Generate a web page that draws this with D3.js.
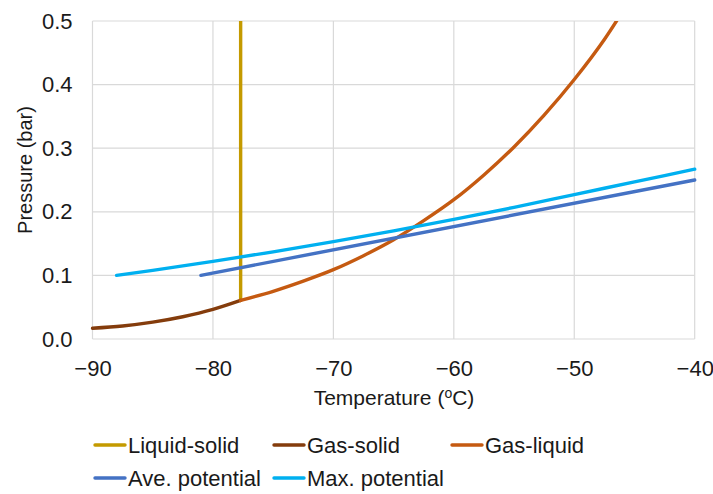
<!DOCTYPE html>
<html>
<head>
<meta charset="utf-8">
<script src="https://cdn.jsdelivr.net/npm/d3@7"></script>
<style>
  body { margin: 0; background: #fff; }
  svg { font-family: 'Liberation Sans', Arial, sans-serif; }
</style>
</head>
<body>
<script>
// temperatures in °C, pressures in bar
const liquidSolidT = [-77.7, -77.7]
const liquidSolidP = [0.0606, 0.6]

const gasSolidT = [-90, -87.5, -85, -82.5, -80, -77.7]
const gasSolidP = [0.017, 0.0205, 0.0265, 0.035, 0.0465, 0.0606]

const gasLiquidT = [-77.7, -75, -72.5, -70, -67.5, -65, -62.5, -60, -57.5, -55, -52.5, -50, -47.5, -45]
const gasLiquidP = [0.0606, 0.075, 0.091, 0.109, 0.131, 0.156, 0.186, 0.219, 0.258, 0.302, 0.352, 0.408, 0.471, 0.545]

const aveT = [-81, -40]
const aveP = [0.100, 0.250]

const maxT = [-88, -85, -80, -75, -70, -65, -60, -55, -50, -45, -40]
const maxP = [0.100, 0.108, 0.122, 0.137, 0.153, 0.170, 0.188, 0.207, 0.227, 0.247, 0.267]

const xTicks = [-90, -80, -70, -60, -50, -40]
const yTicks = [0, 0.1, 0.2, 0.3, 0.4, 0.5]

const series = [
  { name: 'Liquid-solid', t: liquidSolidT, p: liquidSolidP, color: '#C49A00' },
  { name: 'Gas-solid', t: gasSolidT, p: gasSolidP, color: '#843C0C' },
  { name: 'Gas-liquid', t: gasLiquidT, p: gasLiquidP, color: '#C55A11' },
  { name: 'Ave. potential', t: aveT, p: aveP, color: '#4472C4' },
  { name: 'Max. potential', t: maxT, p: maxP, color: '#00B0F0' }
]

const width = 713, height = 494
const margins = { top: 21, left: 92.5, right: 18.3, bottom: 155 }
const bodyW = width - margins.left - margins.right
const bodyH = height - margins.top - margins.bottom

const svg = d3.select('body').append('svg').attr('width', width).attr('height', height)

const x = d3.scaleLinear().domain([-90, -40]).range([0, bodyW])
const y = d3.scaleLinear().domain([0, 0.5]).range([bodyH, 0])

svg.append('defs').append('clipPath').attr('id', 'clip')
  .append('rect').attr('x', -3).attr('y', 0).attr('width', bodyW + 6).attr('height', bodyH)

const body = svg.append('g').attr('transform', 'translate(' + margins.left + ',' + margins.top + ')')

// grid
body.append('g').selectAll('line').data(yTicks).join('line')
  .attr('x1', 0).attr('x2', bodyW)
  .attr('y1', d => y(d)).attr('y2', d => y(d))
  .attr('stroke', '#d9d9d9').attr('stroke-width', 1.2)
body.append('g').selectAll('line').data(xTicks).join('line')
  .attr('y1', 0).attr('y2', bodyH)
  .attr('x1', d => x(d)).attr('x2', d => x(d))
  .attr('stroke', '#d9d9d9').attr('stroke-width', 1.2)

const fmtX = d => d < 0 ? '\u2212' + Math.abs(d) : '' + d

// axes using d3 axis, then strip domain/ticks
const xAxis = body.append('g').attr('transform', 'translate(0,' + bodyH + ')')
  .call(d3.axisBottom(x).tickValues(xTicks).tickFormat(fmtX).tickSize(0).tickPadding(21))
xAxis.select('.domain').remove()
xAxis.selectAll('text').attr('font-size', 22).attr('fill', '#1a1a1a').attr('font-family', null)

const yAxis = body.append('g')
  .call(d3.axisLeft(y).tickValues(yTicks).tickFormat(d3.format('.1f')).tickSize(0).tickPadding(20))
yAxis.select('.domain').remove()
yAxis.selectAll('text').attr('font-size', 22).attr('fill', '#1a1a1a').attr('font-family', null)

// lines
const line = d3.line().x(d => x(d[0])).y(d => y(d[1])).curve(d3.curveMonotoneX)
const plot = body.append('g').attr('clip-path', 'url(#clip)')
series.forEach(s => {
  const pts = s.t.map((t, i) => [t, s.p[i]])
  plot.append('path')
    .attr('d', s.t[0] === s.t[1] && s.t.length === 2 ? d3.line().x(d => x(d[0])).y(d => y(d[1]))(pts) : line(pts))
    .attr('fill', 'none')
    .attr('stroke', s.color)
    .attr('stroke-width', 3.4)
    .attr('stroke-linecap', 'round')
    .attr('stroke-linejoin', 'round')
})

// axis titles
svg.append('text')
  .attr('transform', 'translate(25,' + 170 + ') rotate(-90)')
  .attr('text-anchor', 'middle').attr('dominant-baseline', 'central')
  .attr('font-size', 20).attr('fill', '#1a1a1a')
  .text('Pressure (bar)')

const xt = svg.append('text')
  .attr('x', 394).attr('y', 405)
  .attr('text-anchor', 'middle')
  .attr('font-size', 21).attr('fill', '#1a1a1a')
xt.append('tspan').text('Temperature (')
xt.append('tspan').attr('font-size', 14).attr('dy', -7).text('o')
xt.append('tspan').attr('dy', 7).text('C)')

// legend
const legendPos = [
  { x: 95, y: 445 }, { x: 274, y: 445 }, { x: 452, y: 445 },
  { x: 95, y: 478 }, { x: 274, y: 478 }
]
const legend = svg.append('g').selectAll('g').data(series).join('g')
  .attr('transform', (d, i) => 'translate(' + legendPos[i].x + ',' + legendPos[i].y + ')')
legend.append('line').attr('x1', 0).attr('x2', 30).attr('y1', 0).attr('y2', 0)
  .attr('stroke', d => d.color).attr('stroke-width', 3.4).attr('stroke-linecap', 'round')
legend.append('text').attr('x', 33).attr('y', 0).attr('dominant-baseline', 'central')
  .attr('font-size', 22).attr('fill', '#1a1a1a')
  .text(d => d.name)
</script>
</body>
</html>
